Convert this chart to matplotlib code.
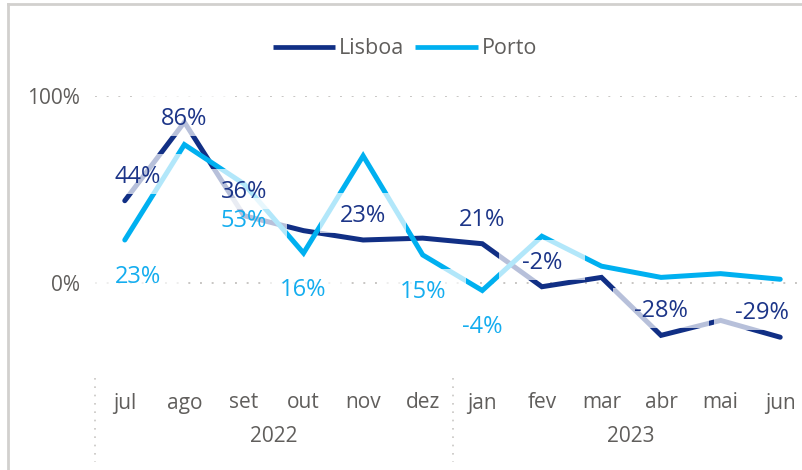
import matplotlib
matplotlib.use("Agg")
import matplotlib.pyplot as plt
from matplotlib.lines import Line2D
from matplotlib.patches import Rectangle
from matplotlib.transforms import blended_transform_factory

# dados (variação %)
months = ["jul", "ago", "set", "out", "nov", "dez", "jan", "fev", "mar", "abr", "mai", "jun"]
years = ["2022", "2023"]
year_span = [(0, 5), (6, 11)]
lisboa = [44, 86, 36, 28, 23, 24, 21, -2, 3, -28, -20, -29]
porto = [23, 74, 53, 16, 68, 15, -4, 25, 9, 3, 5, 2]
# pontos com rótulo visível
lisboa_lbl = [0, 1, 2, 4, 6, 7, 9, 11]
porto_lbl = [0, 2, 3, 5, 6]

C_LIS = "#112F85"
C_POR = "#00B0F0"
C_LIS_TXT = "#1C3588"
C_POR_TXT = "#14ADEF"
C_GREY = "#605E5C"
C_GRID = "#C8C6C4"
FONT = "Open Sans"

W, H = 802, 470
fig = plt.figure(figsize=(W / 100, H / 100), dpi=100)
ax = fig.add_axes([95 / W, 1 - 376.5 / H, 715 / W, (376.5 - 96) / H])

x = list(range(len(months)))
ax.plot(x, lisboa, color=C_LIS, lw=3.6, solid_capstyle="round", solid_joinstyle="miter", label="Lisboa", zorder=3)
ax.plot(x, porto, color=C_POR, lw=3.6, solid_capstyle="round", solid_joinstyle="miter", label="Porto", zorder=4)

ax.set_xlim(-0.5, len(months) - 0.5)
ax.set_ylim(-50, 100)
ax.set_yticks([0, 100])
ax.set_yticklabels(["0%", "100%"], fontfamily=FONT, fontsize=15, color=C_GREY)
ax.tick_params(axis="y", length=0, pad=11)
ax.set_xticks([])
ax.yaxis.grid(True, color=C_GRID, lw=1.4, linestyle=(0, (1, 5)))
ax.set_axisbelow(True)
for s in ax.spines.values():
    s.set_visible(False)

# eixo x hierárquico (meses / anos)
bt = blended_transform_factory(ax.transData, fig.transFigure)
for i, m in enumerate(months):
    ax.text(i, 1 - 403 / H, m, transform=bt, ha="center", va="center",
            fontfamily=FONT, fontsize=15, color=C_GREY, clip_on=False)
for (a, b), yr in zip(year_span, years):
    ax.text((a + b) / 2, 1 - 437 / H, yr, transform=bt, ha="center", va="center",
            fontfamily=FONT, fontsize=15, color=C_GREY, clip_on=False)
for xs in [-0.5, 5.5, 11.5]:
    ax.add_line(Line2D([xs, xs], [1 - 378 / H, 1 - 462 / H], transform=bt, color=C_GRID,
                       lw=1.2, linestyle=(0, (1, 4)), clip_on=False))

# rótulos com fundo branco semi-transparente
ax_l, ax_r, ax_t = 95, 810, H - 96
def put_label(i, val, color, dy):
    px, py = ax.transData.transform((i, val))
    txt = f"{val}%"
    hw = 43 if len(txt) <= 3 else 48
    hh = 20
    cx = min(max(px, ax_l + hw), ax_r - hw)
    cy = py + dy
    if cy + hh > ax_t:
        cy = ax_t - hh
    fig.add_artist(Rectangle(((cx - hw) / W, (cy - hh) / H), 2 * hw / W, 2 * hh / H,
                             transform=fig.transFigure, facecolor="white", alpha=0.7,
                             edgecolor="none", zorder=5))
    fig.text(cx / W, cy / H, txt, ha="center", va="center_baseline", color=color,
             fontfamily=FONT, fontsize=17, zorder=6)

for i in lisboa_lbl:
    put_label(i, lisboa[i], C_LIS_TXT, 27)
for i in porto_lbl:
    put_label(i, porto[i], C_POR_TXT, -34)

# legenda
leg = fig.legend(loc="center", bbox_to_anchor=(405 / W, 1 - 49 / H), ncol=2, frameon=False,
                 handlelength=2.9, handletextpad=0.2, columnspacing=0.5,
                 prop={"family": FONT, "size": 15.5})
for t in leg.get_texts():
    t.set_color(C_GREY)
for h in leg.get_lines():
    h.set_linewidth(3.4)
    h.set_solid_capstyle("butt")

# moldura do visual
fig.add_artist(Line2D([8 / W, 8 / W], [0, 1 - 4 / H], transform=fig.transFigure, color="#D2D0CE", lw=2))
fig.add_artist(Line2D([8 / W, 1], [1 - 4 / H, 1 - 4 / H], transform=fig.transFigure, color="#D2D0CE", lw=2))

fig.savefig("out.png", dpi=100)
